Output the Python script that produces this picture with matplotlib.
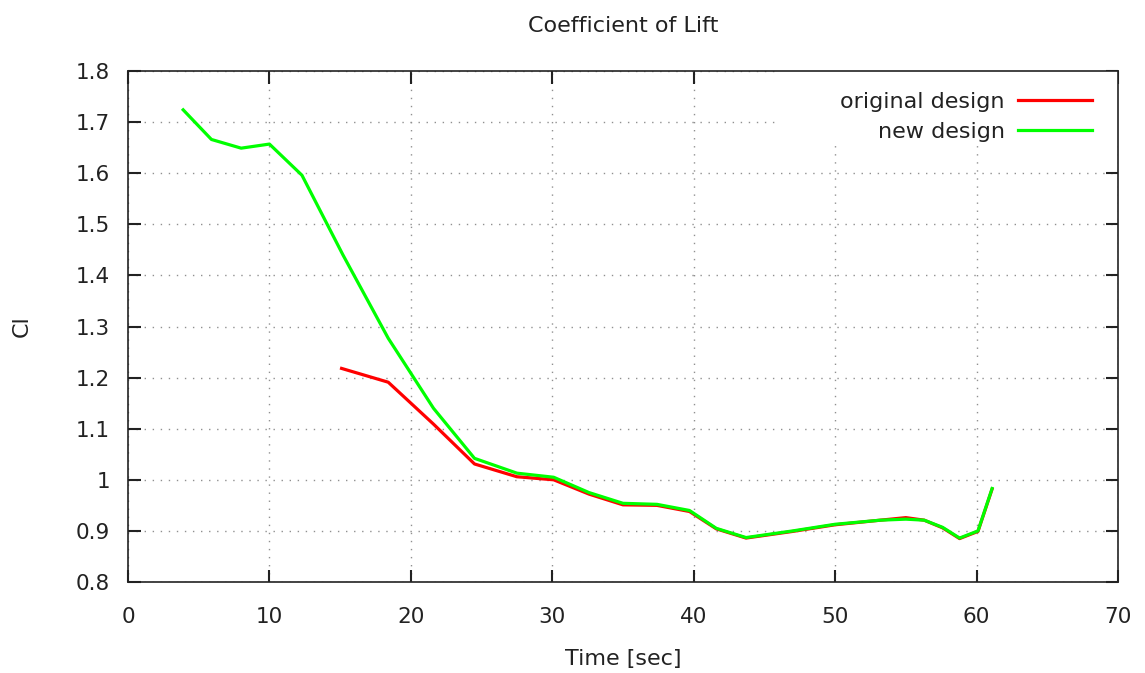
import matplotlib.pyplot as plt
from matplotlib.patches import Rectangle

# time samples [sec]
time_new = [3.9, 5.9, 8.0, 10.0, 12.3, 15.2, 18.4, 21.6, 24.5, 27.5, 30.1, 32.6, 35.0,
            37.4, 39.7, 41.6, 43.7, 47.0, 50.0, 53.2, 55.0, 56.3, 57.6, 58.8, 60.1, 61.1]
cl_new = [1.724, 1.666, 1.649, 1.657, 1.596, 1.440, 1.277, 1.140, 1.042, 1.013, 1.005, 0.975,
          0.954, 0.952, 0.940, 0.905, 0.887, 0.900, 0.913, 0.921, 0.923, 0.921, 0.907, 0.886,
          0.900, 0.983]

time_orig = [15.1, 18.4, 21.6, 24.5, 27.5, 30.1, 32.6, 35.0, 37.4, 39.7, 41.6, 43.7, 47.0,
             50.0, 53.2, 55.0, 56.3, 57.6, 58.8, 60.1, 61.1]
cl_orig = [1.218, 1.191, 1.109, 1.031, 1.006, 1.000, 0.972, 0.951, 0.950, 0.938, 0.904, 0.886,
           0.899, 0.912, 0.921, 0.926, 0.921, 0.906, 0.885, 0.899, 0.982]

x_ticks = [0, 10, 20, 30, 40, 50, 60, 70]
y_ticks = [0.8, 0.9, 1.0, 1.1, 1.2, 1.3, 1.4, 1.5, 1.6, 1.7, 1.8]
y_labels = ["0.8", "0.9", "1", "1.1", "1.2", "1.3", "1.4", "1.5", "1.6", "1.7", "1.8"]

plt.rcParams["font.family"] = ["DejaVu Sans"]
plt.rcParams["font.size"] = 15.5

fig = plt.figure(figsize=(11.45, 6.73), dpi=100)
ax = fig.add_axes([0.1118, 0.1352, 0.8646, 0.7593])

ax.plot(time_orig, cl_orig, color="#ff0000", lw=2.3, label="original design", zorder=3)
ax.plot(time_new, cl_new, color="#00ff00", lw=2.3, label="new design", zorder=3)

ax.set_xlim(0, 70)
ax.set_ylim(0.8, 1.8)
ax.set_xticks(x_ticks)
ax.set_yticks(y_ticks)
ax.set_yticklabels(y_labels)
ax.grid(True, color="#909090", linestyle=(0, (1, 4.8)), linewidth=1.0)
ax.tick_params(axis="x", pad=18)
ax.tick_params(axis="y", pad=13)
ax.tick_params(direction="in", length=9, width=1.5, top=True, right=True,
               colors="#222222")
for s in ax.spines.values():
    s.set_linewidth(1.2)
    s.set_color("#222222")

# key box blanks the grid behind it, as gnuplot does
ax.add_patch(Rectangle((0.6586, 0.855), 0.3414, 0.145, transform=ax.transAxes,
                       facecolor="white", edgecolor="none", zorder=2))

ax.set_title("Coefficient of Lift", fontsize=16, pad=28, color="#222222")
ax.set_xlabel("Time [sec]", fontsize=16, labelpad=16, color="#222222")
ax.set_ylabel("Cl", fontsize=16, labelpad=32, color="#222222")

leg = ax.legend(loc="upper right", bbox_to_anchor=(0.9803, 0.9726), markerfirst=False,
                frameon=False, fontsize=16, handlelength=3.33, labelspacing=0.47,
                borderaxespad=0, borderpad=0.3, handletextpad=0.59)
for t in leg.get_texts():
    t.set_color("#222222")

fig.savefig("out.png", dpi=100)
